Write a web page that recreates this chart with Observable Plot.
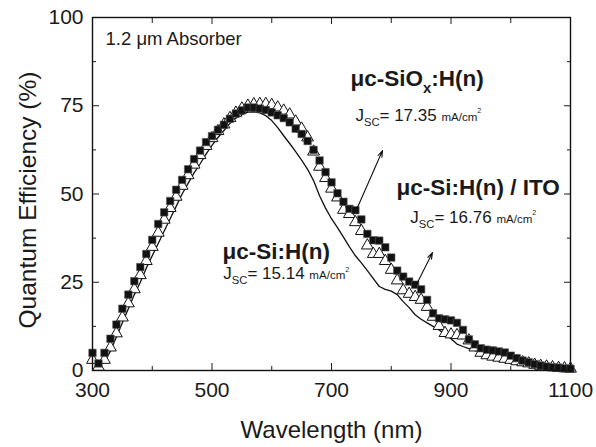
<!DOCTYPE html>
<html>
<head>
<meta charset="utf-8">
<script src="https://cdn.jsdelivr.net/npm/d3@7"></script>
<script src="https://cdn.jsdelivr.net/npm/@observablehq/plot@0.6"></script>
<style>
  html, body { margin: 0; padding: 0; background: #fff; }
  #chart { width: 596px; height: 447px; }
</style>
</head>
<body>
<div id="chart"></div>
<script>
// ---- data ----
const wavelengths = d3.range(300, 1101, 10);

// filled squares: μc-SiOx:H(n)
const qeSiOx = [
  5, 2, 5, 9, 13, 17.5, 21.5, 25.3, 29.3, 33,
  37, 41.5, 44.8, 48, 51.2, 54, 57, 59.9, 62.3, 64.7,
  66.4, 68.2, 69.6, 71.3, 72.8, 73.7, 74.5, 74.5, 74.2, 73.8,
  73.1, 72.3, 71.5, 70.3, 68.5, 67, 65, 62.5, 59.5, 56.2,
  53.3, 50.2, 47.8, 45.8, 45.4, 42.8, 38.7, 36.9, 36.8, 34.9,
  32, 28.3, 26.6, 25.2, 24.3, 23, 20, 16.2, 14.8, 14.5,
  14.2, 13.5, 11.5, 8.8, 7.4, 6.3, 5.9, 5.7, 5.4, 5.1,
  4.2, 3.5, 2.8, 2.3, 1.8, 1.4, 1.1, 0.9, 0.8, 0.6, 0.5
];

// open triangles: μc-Si:H(n) / ITO
const qeSiITO = [
  3, 1, 3, 6.5, 10.5, 15, 19, 23, 27, 31,
  35, 39, 42.7, 46, 49.2, 52.3, 55.3, 58.3, 61, 63.6,
  65.8, 67.8, 69.7, 71.5, 73, 74.2, 75, 75.4, 75.5, 75.5,
  75.2, 74.5, 73.6, 72.5, 70.5, 68.5, 66, 62, 57.7, 54.5,
  51.5, 49, 45.5, 44.3, 42, 39.5, 35.4, 33, 33, 31,
  28.5, 25.5, 22.7, 21.7, 20.8, 20, 18, 15.2, 12.6, 10.6,
  10.2, 10, 9.9, 8.5, 6.5, 5, 4.3, 3.9, 3.6, 3.3,
  3, 2.6, 2.3, 2, 1.6, 1.3, 1.1, 0.9, 0.7, 0.6, 0.5
];

// solid line: μc-Si:H(n)
const qeSi = [
  4.5, 1.2, 2.5, 5.5, 9.5, 13.5, 17.5, 21.5, 25, 29,
  32.5, 36, 39.5, 43, 46.5, 50, 53, 56, 58.5, 61.3,
  63.8, 66, 68, 70, 71.5, 72.5, 73.2, 73.3, 73, 72.2,
  70.8, 68.8, 66.5, 64.3, 62, 59.6, 57, 53.8, 49.5, 46,
  43, 40.5, 37.8, 35, 32.5, 30.5, 28.3, 26, 23.8, 23,
  22.5, 21.5, 19.5, 17.8, 15.8, 14.5, 13.5, 12.5, 11.5, 10.3,
  9, 7.5, 6.8, 6.2, 5.6, 5.2, 4.8, 4.4, 4.1, 3.8,
  3.3, 2.8, 2.4, 2.1, 1.8, 1.4, 1.1, 0.9, 0.7, 0.6, 0.4
];

// axis ticks
const xMajorTicks = [300, 500, 700, 900, 1100];
const xMinorTicks = [400, 600, 800, 1000];
const yMajorTicks = [0, 25, 50, 75, 100];
const yMinorTicks = [12.5, 37.5, 62.5, 87.5];

// annotations (data units)
const seriesNames = ["μc-SiO_{x}:H(n)", "μc-Si:H(n) / ITO", "μc-Si:H(n)"];
const nameX = [731.8, 808.8, 517.6];
const nameY = [80.7, 49.6, 31.7];
const jscLabels = ["J_{SC}= 17.35 ~{mA/cm}^{2}", "J_{SC}= 16.76 ~{mA/cm}^{2}", "J_{SC}= 15.14 ~{mA/cm}^{2}"];
const jscX = [740, 832, 519];
const jscY = [70.8, 41.9, 26.0];
const arrowX1 = [743.5, 843.9];
const arrowY1 = [46.2, 24.9];
const arrowX2 = [785.4, 869.0];
const arrowY2 = [62.3, 33.4];

// ---- build tables ----
const squares = wavelengths.map((w, i) => ({w, v: qeSiOx[i]}));
const triangles = wavelengths.map((w, i) => ({w, v: qeSiITO[i]}));
const lineData = wavelengths.map((w, i) => ({w, v: qeSi[i]}));
const names = seriesNames.map((t, i) => ({t, x: nameX[i], y: nameY[i]}));
const jscs = jscLabels.map((t, i) => ({t, x: jscX[i], y: jscY[i]}));
const arrows = arrowX1.map((_, i) => ({x1: arrowX1[i], y1: arrowY1[i], x2: arrowX2[i], y2: arrowY2[i]}));

const ink = "#1a1a1a";
const empty = () => "";

const plot = Plot.plot({
  width: 596,
  height: 447,
  marginLeft: 92,
  marginRight: 26,
  marginTop: 17,
  marginBottom: 77,
  x: {domain: [300, 1100]},
  y: {domain: [0, 100]},
  style: {fontFamily: "'Liberation Sans', Arial, Helvetica, sans-serif", background: "#fff", color: ink, overflow: "visible"},
  marks: [
    // ticks pointing inward on all four sides
    Plot.axisX({anchor: "bottom", ticks: xMajorTicks, tickSize: -7, tickFormat: empty, label: null, stroke: ink}),
    Plot.axisX({anchor: "bottom", ticks: xMinorTicks, tickSize: -4, tickFormat: empty, label: null, stroke: ink}),
    Plot.axisX({anchor: "top", ticks: xMajorTicks, tickSize: -6, tickFormat: empty, label: null, stroke: ink}),
    Plot.axisX({anchor: "top", ticks: xMinorTicks, tickSize: -5, tickFormat: empty, label: null, stroke: ink}),
    Plot.axisY({anchor: "left", ticks: yMajorTicks, tickSize: -7, tickFormat: empty, label: null, stroke: ink}),
    Plot.axisY({anchor: "left", ticks: yMinorTicks, tickSize: -4, tickFormat: empty, label: null, stroke: ink}),
    Plot.axisY({anchor: "right", ticks: yMajorTicks, tickSize: -7, tickFormat: empty, label: null, stroke: ink}),
    Plot.axisY({anchor: "right", ticks: yMinorTicks, tickSize: -4, tickFormat: empty, label: null, stroke: ink}),
    // tick labels
    Plot.axisX({anchor: "bottom", ticks: xMajorTicks, tickSize: 0, tickPadding: 12, fontSize: 21, label: null, fill: ink, tickFormat: d3.format("d")}),
    Plot.axisY({anchor: "left", ticks: yMajorTicks, tickSize: 0, tickPadding: 9, fontSize: 21, label: null, fill: ink, tickFormat: d3.format("d")}),
    // axis titles
    Plot.text(["Wavelength (nm)"], {frameAnchor: "bottom", dy: 60, fontSize: 24, fill: ink, textAnchor: "middle", lineAnchor: "middle"}),
    Plot.text(["Quantum Efficiency (%)"], {frameAnchor: "left", dx: -64, dy: 6, rotate: -90, fontSize: 24.5, fill: ink, textAnchor: "middle", lineAnchor: "middle"}),
    // data
    Plot.line(lineData, {x: "w", y: "v", stroke: "#111", strokeWidth: 1.3}),
    Plot.dot(triangles, {x: "w", y: "v", symbol: "triangle", r: 4.4, stroke: "#111", strokeWidth: 1, fill: "#fff"}),
    Plot.dot(squares, {x: "w", y: "v", symbol: "square", r: 4.2, fill: "#111", stroke: "#555", strokeWidth: 0.6}),
    // annotations
    Plot.arrow(arrows, {x1: "x1", y1: "y1", x2: "x2", y2: "y2", stroke: "#111", strokeWidth: 1.1, headLength: 9, headAngle: 36}),
    Plot.text(["1.2 μm Absorber"], {x: [321.8], y: [92.1], textAnchor: "start", lineAnchor: "bottom", fontSize: 18.5, fill: ink}),
    Plot.text(names, {x: "x", y: "y", text: "t", textAnchor: "start", lineAnchor: "bottom", fontSize: 22.5, fontWeight: "bold", fill: ink}),
    Plot.text(jscs, {x: "x", y: "y", text: "t", textAnchor: "start", lineAnchor: "bottom", fontSize: 17, fill: ink}),
    Plot.frame({stroke: "#111", strokeWidth: 1.4})
  ]
});

// render sub/superscripts inside the text marks
function rich(textEl, s, base) {
  const el = d3.select(textEl);
  el.text(null);
  const re = /([_^~])\{([^}]*)\}|([^_^~]+)/g;
  let m, shift = 0;
  while ((m = re.exec(s))) {
    let t, size = base, dy = 0;
    if (m[3] !== undefined) {
      t = m[3];
    } else {
      t = m[2];
      if (m[1] === "_") { size = base * 0.66; dy = base * 0.32; }
      else if (m[1] === "^") { size = base * 0.42; dy = -base * 0.42; }
      else { size = base * 0.68; }
    }
    el.append("tspan").attr("font-size", size).attr("dy", dy - shift).text(t);
    shift = dy;
  }
}
d3.select(plot).selectAll("text").each(function () {
  const s = this.textContent;
  if (seriesNames.includes(s)) rich(this, s, 22.5);
  else if (jscLabels.includes(s)) rich(this, s, 17);
});

document.getElementById("chart").appendChild(plot);
</script>
</body>
</html>
